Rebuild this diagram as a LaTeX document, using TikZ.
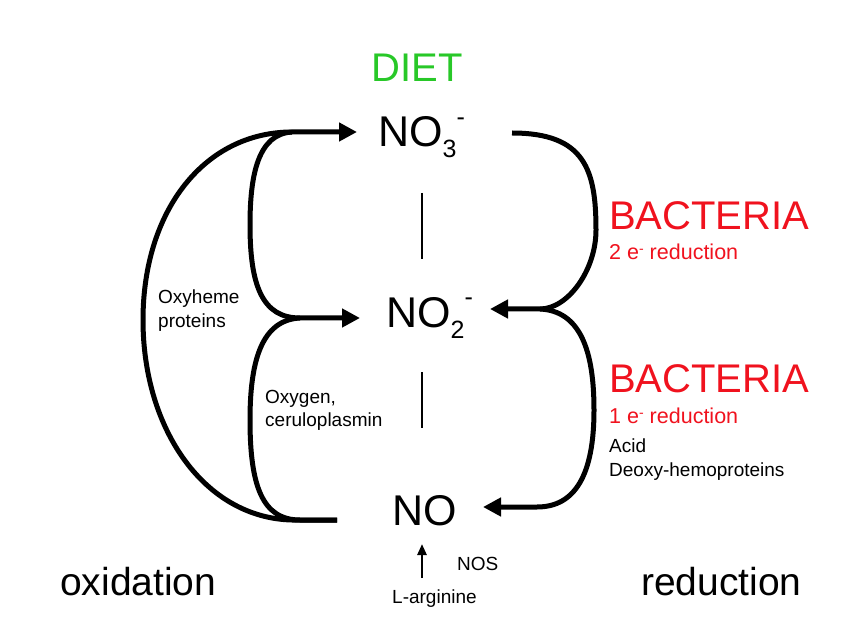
\documentclass[tikz,border=0pt]{standalone}
\usepackage{fontspec}
\setmainfont{Liberation Sans}
\usetikzlibrary{arrows.meta}
\definecolor{dietgreen}{RGB}{40,200,40}
\definecolor{bacred}{RGB}{240,18,30}
\newcommand\myfs[1]{\fontsize{#1}{#1}\selectfont}
\tikzset{
  curve/.style={line width=5pt},
  bigtip/.style={-{Triangle[length=18pt,width=18pt]}},
  bar/.style={line width=2.5pt},
  txt/.style={anchor=base west, inner sep=0pt},
  chem/.style={txt, font=\myfs{43}},
  bigred/.style={txt, font=\myfs{40}, text=bacred},
  smallred/.style={txt, font=\myfs{21.5}, text=bacred},
  small/.style={txt, font=\myfs{19}},
  side/.style={txt, font=\myfs{39}},
}
\begin{document}
\begin{tikzpicture}[x=1pt,y=-1pt]
\useasboundingbox (0,0) rectangle (862,628);
% texts
\node[anchor=base, inner sep=0pt, font=\myfs{40}, text=dietgreen] (diet) at (417,82) {DIET};
\node[chem] (no3) at (378,147) {NO\raisebox{-11pt}{\myfs{25}3}\raisebox{21pt}{\myfs{25}-}};
\node[chem] (no2) at (386,327) {NO\raisebox{-11pt}{\myfs{25}2}\raisebox{22pt}{\myfs{25}-}};
\node[chem] (no) at (392,525) {NO};
\node[bigred] (bac1) at (609,230) {BACTERIA};
\node[smallred] (red2) at (609,260) {2 e\raisebox{6pt}{\myfs{14}-} reduction};
\node[bigred] (bac2) at (609,392) {BACTERIA};
\node[smallred] (red1) at (609,423) {1 e\raisebox{6pt}{\myfs{14}-} reduction};
\node[small] (acid) at (609,452) {Acid};
\node[small] (deoxy) at (609,476) {Deoxy-hemoproteins};
\node[small] (oxyh) at (158,304) {Oxyheme};
\node[small] (prot) at (158,327) {proteins};
\node[small] (oxyg) at (265,403) {Oxygen,};
\node[small] (cerul) at (265,426) {ceruloplasmin};
\node[small] (nos) at (457,570) {NOS};
\node[small] (larg) at (392,603) {L-arginine};
\node[side] (oxid) at (60,595) {oxidation};
\node[side] (redu) at (641,595) {reduction};
% coordinates
\coordinate (a3) at (357,132);
\coordinate (a2) at (360,318);
\coordinate (jt) at (292,132);
\coordinate (jm) at (300,318);
\coordinate (jb) at (300,520);
\coordinate (lb) at (337,520);
\coordinate (r3) at (512,133);
\coordinate (rm) at (540,309);
\coordinate (r2) at (490,309);
\coordinate (r1) at (483,507);
% vertical bars
\draw[bar] (422,193) -- (422,259);
\draw[bar] (422,372) -- (422,428);
% NOS arrow
\draw[bar, -{Triangle[length=11pt,width=9pt]}] (422,578) -- (422,544);
% left curves
\draw[curve, bigtip] (lb) -- (292,520) .. controls (205,518) and (143,430) .. (143,320)
   .. controls (143,210) and (205,132) .. (jt) -- (a3);
\draw[curve, bigtip] (jt) .. controls (258,134) and (250,175) .. (250,225)
   .. controls (250,285) and (262,318) .. (jm) -- (a2);
\draw[curve] (jm) .. controls (262,320) and (250,360) .. (250,420)
   .. controls (250,485) and (262,520) .. (jb) -- (lb);
% right curves
\draw[curve, bigtip] (r3) .. controls (585,133) and (596,170) .. (596,230)
   .. controls (596,270) and (568,309) .. (rm) -- (r2);
\draw[curve, bigtip] (rm) .. controls (580,311) and (594,350) .. (594,410)
   .. controls (594,475) and (575,507) .. (537,507) -- (r1);
\end{tikzpicture}
\end{document}
